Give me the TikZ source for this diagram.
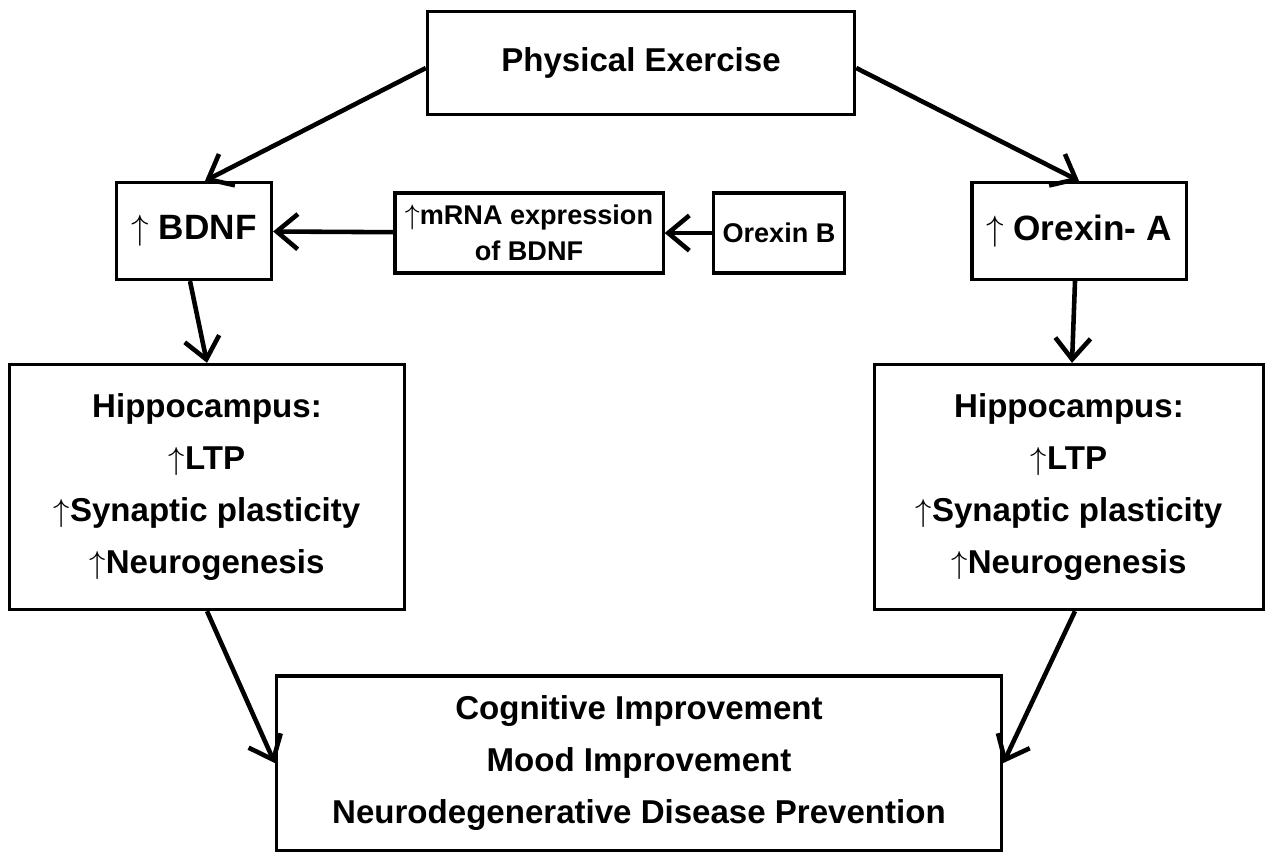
\documentclass[tikz,border=0pt]{standalone}
\usepackage{fontspec}
\setmainfont{Liberation Sans}
\usetikzlibrary{arrows.meta}

\newcommand{\upar}{{\mdseries$\uparrow$}}

\begin{document}
\begin{tikzpicture}[x=0.01cm,y=-0.01cm,>={Straight Barb[length=6pt,width=10pt,line width=1.3pt]},
  box/.style={draw,line width=0.9pt,align=center,inner sep=0pt,
    font=\bfseries\fontsize{9.4}{14.8}\selectfont},
  smallbox/.style={box,font=\bfseries\fontsize{7.7}{10.2}\selectfont},
  flow/.style={->,line width=1.3pt}]
  \useasboundingbox (0,0) rectangle (1271,856);

  \node[box,minimum width=4.27cm,minimum height=1.03cm] (pe) at (641,63) {Physical Exercise};
  \node[box,minimum width=1.55cm,minimum height=0.97cm,font=\bfseries\fontsize{10}{12}\selectfont] (bdnf) at (194,231) {\upar\ BDNF};
  \node[smallbox,minimum width=2.68cm,minimum height=0.80cm] (mrna) at (529,233) {\upar mRNA expression\\of BDNF};
  \node[smallbox,minimum width=1.31cm,minimum height=0.80cm] (orxb) at (779,233) {Orexin B};
  \node[box,minimum width=2.14cm,minimum height=0.97cm,font=\bfseries\fontsize{10}{12}\selectfont] (orxa) at (1079,231) {\upar\ Orexin- A};

  \node[box,minimum width=3.95cm,minimum height=2.45cm] (hipl) at (207,487)
    {Hippocampus:\\\upar LTP\\\upar Synaptic plasticity\\\upar Neurogenesis};
  \node[box,minimum width=3.88cm,minimum height=2.45cm] (hipr) at (1069,487)
    {Hippocampus:\\\upar LTP\\\upar Synaptic plasticity\\\upar Neurogenesis};

  \node[box,minimum width=7.25cm,minimum height=1.74cm] (out) at (639,763)
    {Cognitive Improvement\\Mood Improvement\\Neurodegenerative Disease Prevention};

  \draw[flow] ([shift={(0,5)}]pe.west) -- ([shift={(11,0)}]bdnf.north);
  \draw[flow] ([shift={(0,5)}]pe.east) -- (orxa.north);
  \draw[flow] (orxb) -- (mrna);
  \draw[flow] (mrna) -- (bdnf);
  \draw[flow] ([shift={(-4,0)}]bdnf.south) -- (hipl.north);
  \draw[flow] ([shift={(-4,0)}]orxa.south) -- ([shift={(3,0)}]hipr.north);
  \draw[flow] (hipl.south) -- (out.west);
  \draw[flow] ([shift={(6,0)}]hipr.south) -- (out.east);
\end{tikzpicture}
\end{document}
